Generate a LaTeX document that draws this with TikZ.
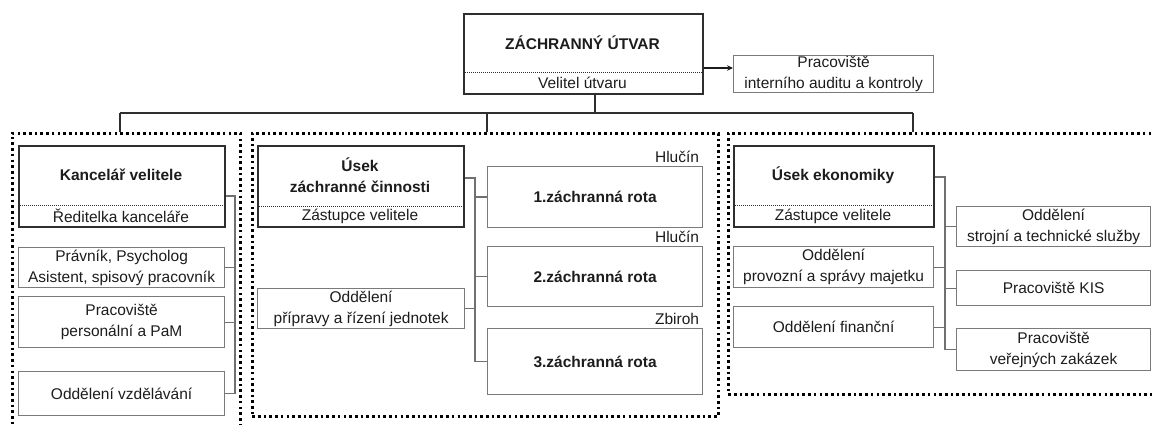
\documentclass[tikz,border=0pt]{standalone}
\usepackage{fontspec}
\setmainfont{Liberation Sans}
\usetikzlibrary{arrows.meta,calc}
\definecolor{txt}{HTML}{1C1C1C}
\definecolor{boxline}{HTML}{7A7A7A}
\definecolor{headline}{HTML}{2E2E2E}
\definecolor{wireline}{HTML}{707070}
\newcommand\fs{\fontsize{15.5}{21}\selectfont}
\tikzset{
  box/.style={draw=boxline, line width=1.2pt, anchor=north west, inner sep=0pt,
    align=center, font=\fs, text=txt},
  headbox/.style={draw=headline, line width=2pt, anchor=north west, inner sep=0pt},
  sepline/.style={draw=headline, line width=0.6pt, dash pattern=on 1pt off 1pt},
  title/.style={font=\fs\bfseries, text=txt, align=center, inner sep=0pt},
  sub/.style={font=\fs, text=txt, align=center, inner sep=0pt},
  place/.style={font=\fs, text=txt, anchor=south east, inner sep=0pt},
  wire/.style={draw=wireline, line width=1.2pt},
  grp/.style={draw=black, line width=2.6pt, dash pattern=on 2.6pt off 3.1pt,
    anchor=north west, inner sep=0pt},
}
\begin{document}
\begin{tikzpicture}[x=1pt,y=-1pt]
\useasboundingbox (0,0) rectangle (1152,425);
\clip (0,0) rectangle (1152,425);

% dotted group frames
\node[grp, minimum width=228pt, minimum height=310pt] (gL) at (11,132) {};
\node[grp, minimum width=466pt, minimum height=283pt] (gM) at (251,132) {};
\node[grp, minimum width=440pt, minimum height=261pt] (gR) at (727,132) {};

% head of the unit
\node[headbox, minimum width=239pt, minimum height=80pt] (zu) at (463,13) {};
\draw[sepline] (zu.west |- 0,72) -- (zu.east |- 0,72);
\node[title] at (582.5,43) {ZÁCHRANNÝ ÚTVAR};
\node[sub] at (582.5,82.5) {Velitel útvaru};

\node[box, minimum width=200pt, minimum height=37pt] (audit) at (733,55)
  {Pracoviště\\interního auditu a kontroly};
\draw[wire, draw=txt, -{Stealth[length=6pt,width=5.5pt]}] (zu.east |- 0,68) -- (audit.west |- 0,68);

% top bus to the three sections
\coordinate (tj) at (595,113);
\coordinate (dL) at (120,132);
\coordinate (dM) at (487,132);
\coordinate (dR) at (913,132);
\draw[wire, draw=headline] (zu.south -| tj) -- (tj);
\draw[wire, draw=headline] (dL |- tj) -- (dR |- tj);
\draw[wire, draw=headline] (dL |- tj) -- (dL);
\draw[wire, draw=headline] (dM |- tj) -- (dM);
\draw[wire, draw=headline] (dR |- tj) -- (dR);

% ---- office of the commander
\node[headbox, minimum width=206pt, minimum height=81pt] (kv) at (18,145) {};
\draw[sepline] (kv.west |- 0,205) -- (kv.east |- 0,205);
\node[title] at (121,175) {Kancelář velitele};
\node[sub] at (121,216) {Ředitelka kanceláře};
\node[box, minimum width=206pt, minimum height=40pt] (prav) at (18,247)
  {Právník, Psycholog\\Asistent, spisový pracovník};
\node[box, minimum width=206pt, minimum height=51pt] (pers) at (18,296)
  {Pracoviště\\personální a PaM};
\node[box, minimum width=206pt, minimum height=44pt] (vzd) at (18,371)
  {Oddělení vzdělávání};
\coordinate (lb) at (235,196);
\draw[wire] (kv.east |- lb) -- (lb) -- (lb |- vzd.east) -- (vzd.east);
\draw[wire] (prav.east) -- (lb |- prav.east);
\draw[wire] (pers.east) -- (lb |- pers.east);

% ---- rescue section
\node[headbox, minimum width=206pt, minimum height=81pt] (uz) at (257,145) {};
\draw[sepline] (uz.west |- 0,206) -- (uz.east |- 0,206);
\node[title] at (360,175) {Úsek\\záchranné činnosti};
\node[sub] at (360,216.5) {Zástupce velitele};
\node[box, minimum width=207pt, minimum height=40pt] (prip) at (257,288)
  {Oddělení\\přípravy a řízení jednotek};
\node[box, minimum width=215pt, minimum height=61pt, font=\fs\bfseries] (r1) at (487,166)
  {1.záchranná rota};
\node[box, minimum width=215pt, minimum height=60pt, font=\fs\bfseries] (r2) at (487,246)
  {2.záchranná rota};
\node[box, minimum width=215pt, minimum height=66pt, font=\fs\bfseries] (r3) at (487,328)
  {3.záchranná rota};
\node[place] at ([xshift=-4pt,yshift=3pt]r1.north east) {Hlučín};
\node[place] at ([xshift=-4pt,yshift=3pt]r2.north east) {Hlučín};
\node[place] at ([xshift=-4pt,yshift=3pt]r3.north east) {Zbiroh};
\coordinate (mb) at (475,178);
\draw[wire] (uz.east |- mb) -- (mb) -- (mb |- r3.west) -- (r3.west);
\draw[wire] (r1.west) -- (mb |- r1.west);
\draw[wire] (r2.west) -- (mb |- r2.west);
\draw[wire] (prip.east) -- (mb |- prip.east);

% ---- economy section
\node[headbox, minimum width=200pt, minimum height=81pt] (ue) at (733,145) {};
\draw[sepline] (ue.west |- 0,205) -- (ue.east |- 0,205);
\node[title] at (833,175) {Úsek ekonomiky};
\node[sub] at (833,216) {Zástupce velitele};
\node[box, minimum width=200pt, minimum height=41pt] (prov) at (733,246)
  {Oddělení\\provozní a správy majetku};
\node[box, minimum width=200pt, minimum height=41pt] (fin) at (733,306)
  {Oddělení finanční};
\node[box, minimum width=194pt, minimum height=40pt] (stroj) at (956,206)
  {Oddělení\\strojní a technické služby};
\node[box, minimum width=194pt, minimum height=35pt] (kis) at (956,270)
  {Pracoviště KIS};
\node[box, minimum width=194pt, minimum height=42pt] (vz) at (956,328)
  {Pracoviště\\veřejných zakázek};
\coordinate (eb) at (945,177);
\draw[wire] (ue.east |- eb) -- (eb) -- (eb |- vz.west) -- (vz.west);
\draw[wire] (stroj.west) -- (eb |- stroj.west);
\draw[wire] (kis.west) -- (eb |- kis.west);
\draw[wire] (prov.east) -- (eb |- prov.east);
\draw[wire] (fin.east) -- (eb |- fin.east);
\end{tikzpicture}
\end{document}
